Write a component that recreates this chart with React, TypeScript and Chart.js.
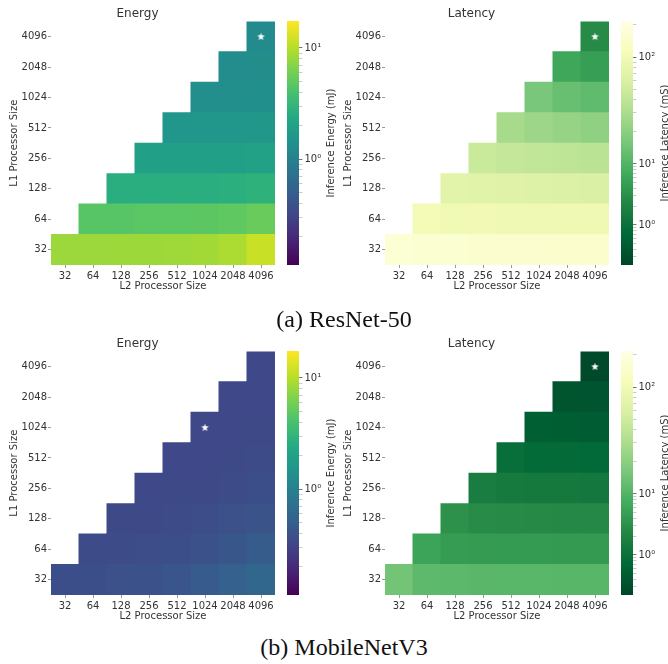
import React, { useEffect, useRef } from 'react';
import { Chart, registerables } from 'chart.js';

Chart.register(...registerables);
Chart.defaults.font.family = "'DejaVu Sans', sans-serif";
Chart.defaults.color = '#333';

// ---------- data ----------
const L2_SIZES = ['32', '64', '128', '256', '512', '1024', '2048', '4096'];
const L1_SIZES = ['32', '64', '128', '256', '512', '1024', '2048', '4096'];

// Rows go from L1 = 32 (bottom) to L1 = 4096 (top); each row lists L2 >= L1.
const RESNET_ENERGY = [
  [8.2, 8.2, 8.3, 8.3, 8.4, 8.6, 9.3, 11.5],
  [4.6, 4.6, 4.7, 4.7, 4.8, 5.0, 5.4],
  [2.6, 2.6, 2.6, 2.65, 2.7, 2.8],
  [1.9, 1.9, 1.9, 1.95, 2.0],
  [1.55, 1.55, 1.55, 1.6],
  [1.35, 1.35, 1.37],
  [1.27, 1.28],
  [1.22],
];
const RESNET_LATENCY = [
  [170, 160, 158, 156, 155, 154, 153, 152],
  [104, 100, 98, 97, 96, 95, 94],
  [72, 68, 66, 64, 62, 60],
  [46, 43, 41, 39, 37],
  [28, 25, 23, 21],
  [16, 13, 12],
  [6.2, 4.8],
  [2.6],
];
const MOBILENET_ENERGY = [
  [0.37, 0.37, 0.38, 0.39, 0.42, 0.47, 0.53, 0.6],
  [0.35, 0.35, 0.36, 0.37, 0.39, 0.43, 0.48],
  [0.34, 0.34, 0.35, 0.36, 0.38, 0.41],
  [0.33, 0.34, 0.34, 0.35, 0.37],
  [0.33, 0.33, 0.34, 0.35],
  [0.33, 0.33, 0.34],
  [0.33, 0.33],
  [0.33],
];
const MOBILENET_LATENCY = [
  [15, 11.5, 11.2, 11, 10.9, 10.8, 10.7, 10.7],
  [5.6, 4.5, 4.4, 4.3, 4.3, 4.2, 4.2],
  [3.2, 2.7, 2.6, 2.55, 2.5, 2.5],
  [1.6, 1.45, 1.4, 1.38, 1.36],
  [0.9, 0.78, 0.76, 0.75],
  [0.52, 0.5, 0.49],
  [0.37, 0.36],
  [0.26],
];

// best configuration [L2, L1]
const BEST_RESNET_ENERGY = ['4096', '4096'];
const BEST_RESNET_LATENCY = ['4096', '4096'];
const BEST_MOBILENET_ENERGY = ['1024', '1024'];
const BEST_MOBILENET_LATENCY = ['4096', '4096'];

// colour scales
const ENERGY_RANGE = [0.111, 17.5];
const ENERGY_TICKS = [1, 10];
const LATENCY_TICKS = [1, 10, 100];
const LATENCY_TICK_POS = [0.164, 0.414, 0.852];

const VIRIDIS = ['#440154', '#482475', '#414487', '#355f8d', '#2a788e', '#21918c', '#22a884', '#44bf70', '#7ad151', '#bddf26', '#fde725'];
const YLGN_R = ['#004529', '#006837', '#238443', '#41ab5d', '#78c679', '#addd8e', '#d9f0a3', '#f7fcb9', '#ffffe5'];

const SUP: Record<string, string> = { '0': '\u2070', '1': '\u00b9', '2': '\u00b2', '-': '\u207b' };
const supLabel = (v: number) => '10' + String(Math.round(Math.log10(v))).split('').map((ch) => SUP[ch]).join('');

function energyNorm(v: number) {
  const a = Math.log10(ENERGY_RANGE[0]);
  const b = Math.log10(ENERGY_RANGE[1]);
  return (Math.log10(v) - a) / (b - a);
}
function latencyNorm(v: number) {
  const L = Math.log10(v);
  const logs = LATENCY_TICKS.map((t) => Math.log10(t));
  const i = L > logs[1] ? 1 : 0;
  const p0 = LATENCY_TICK_POS[i];
  const p1 = LATENCY_TICK_POS[i + 1];
  return p0 + ((L - logs[i]) * (p1 - p0)) / (logs[i + 1] - logs[i]);
}

function hexToRgb(h: string) {
  return [parseInt(h.slice(1, 3), 16), parseInt(h.slice(3, 5), 16), parseInt(h.slice(5, 7), 16)];
}
function sample(stops: string[], t: number) {
  const tt = Math.max(0, Math.min(1, t));
  const n = stops.length - 1;
  const x = tt * n;
  const i = Math.min(Math.floor(x), n - 1);
  const f = x - i;
  const a = hexToRgb(stops[i]);
  const b = hexToRgb(stops[i + 1]);
  const c = a.map((av, k) => Math.round(av + (b[k] - av) * f));
  return `rgb(${c[0]},${c[1]},${c[2]})`;
}

function makeStar() {
  const c = document.createElement('canvas');
  c.width = 9;
  c.height = 9;
  const g = c.getContext('2d')!;
  g.fillStyle = '#ffffff';
  g.beginPath();
  for (let k = 0; k < 10; k++) {
    const r = k % 2 === 0 ? 4 : 1.7;
    const a = -Math.PI / 2 + (k * Math.PI) / 5;
    const x = 4.5 + r * Math.cos(a);
    const y = 4.7 + r * Math.sin(a);
    if (k === 0) g.moveTo(x, y);
    else g.lineTo(x, y);
  }
  g.closePath();
  g.fill();
  return c;
}

interface PanelProps {
  ox: number;
  oy: number;
  title: string;
  values: number[][];
  cmap: string[];
  norm: (v: number) => number;
  best: string[];
  majors: number[];
  cbLabel: string;
}

const TICK_GRID = {
  display: true,
  drawOnChartArea: false,
  drawTicks: true,
  tickLength: 3,
  tickColor: '#999',
  offset: false,
};

function HeatmapPanel({ ox, oy, title, values, cmap, norm, best, majors, cbLabel }: PanelProps) {
  const heatRef = useRef<HTMLCanvasElement>(null);
  const barRef = useRef<HTMLCanvasElement>(null);

  useEffect(() => {
    const datasets: any[] = L1_SIZES.map((l1, r) => ({
      type: 'bar',
      label: 'L1 ' + l1,
      data: L2_SIZES.map((_, c) => (c >= r ? [r - 0.5, r + 0.5] : null)),
      backgroundColor: L2_SIZES.map((_, c) => (c >= r ? sample(cmap, norm(values[r][c - r])) : 'rgba(0,0,0,0)')),
      borderWidth: 0,
      barPercentage: 1,
      categoryPercentage: 1,
      grouped: false,
      inflateAmount: 0.5,
      order: 1,
    }));
    datasets.push({
      type: 'scatter',
      label: 'best',
      data: [{ x: best[0], y: L1_SIZES.indexOf(best[1]) }],
      pointStyle: makeStar(),
      order: 0,
    });

    const heat = new Chart(heatRef.current!, {
      type: 'bar',
      data: { labels: L2_SIZES, datasets },
      options: {
        animation: false,
        responsive: false,
        events: [],
        layout: { padding: { top: 7, right: 9, bottom: 0, left: 0 } },
        plugins: {
          legend: { display: false },
          tooltip: { enabled: false },
          title: { display: true, text: title, font: { size: 12, weight: 'normal' }, padding: 0, color: '#333' },
        },
        scales: {
          x: {
            type: 'category',
            offset: true,
            grid: TICK_GRID,
            border: { display: false },
            ticks: { padding: 2, maxRotation: 0, autoSkip: false, font: { size: 10 } },
            title: { display: true, text: 'L2 Processor Size', font: { size: 10 }, padding: { top: 0, bottom: 8 } },
            afterFit: (s: any) => {
              s.height = 35;
            },
          },
          y: {
            type: 'linear',
            min: -0.5,
            max: 7.5,
            afterBuildTicks: (s: any) => {
              s.ticks = L1_SIZES.map((_, i) => ({ value: i }));
            },
            grid: TICK_GRID,
            border: { display: false },
            ticks: { padding: 1, autoSkip: false, font: { size: 10 }, callback: (v: any) => L1_SIZES[v] },
            title: { display: true, text: 'L1 Processor Size', font: { size: 10 }, padding: { top: 8, bottom: 0 } },
            afterFit: (s: any) => {
              s.width = 51;
            },
          },
        },
      } as any,
    });

    const minors: number[] = [];
    for (let d = -1; d <= 2; d++) {
      for (let m = 2; m <= 9; m++) {
        const v = m * Math.pow(10, d);
        const p = norm(v);
        if (p >= 0 && p <= 1) minors.push(v);
      }
    }

    const labelPlugin = {
      id: 'cbLabel',
      afterDraw(chart: any) {
        const { ctx, chartArea } = chart;
        ctx.save();
        ctx.translate(44, (chartArea.top + chartArea.bottom) / 2);
        ctx.rotate(-Math.PI / 2);
        ctx.font = "10px 'DejaVu Sans', sans-serif";
        ctx.fillStyle = '#333';
        ctx.textAlign = 'center';
        ctx.textBaseline = 'middle';
        ctx.fillText(cbLabel, 0, 0);
        ctx.restore();
      },
    };

    const bar = new Chart(barRef.current!, {
      type: 'bar',
      data: {
        labels: ['colorbar'],
        datasets: [
          {
            data: [[0, 1]],
            backgroundColor: (ctx: any) => {
              const ca = ctx.chart.chartArea;
              if (!ca) return 'rgba(0,0,0,0)';
              const g = ctx.chart.ctx.createLinearGradient(0, ca.bottom, 0, ca.top);
              for (let i = 0; i <= 60; i++) g.addColorStop(i / 60, sample(cmap, i / 60));
              return g;
            },
            borderWidth: 0,
            barPercentage: 1,
            categoryPercentage: 1,
            inflateAmount: 0,
          },
        ],
      },
      options: {
        animation: false,
        responsive: false,
        events: [],
        layout: { padding: { top: 21, right: 5, bottom: 35, left: 0 } },
        plugins: { legend: { display: false }, tooltip: { enabled: false } },
        scales: {
          x: { display: false },
          y: {
            position: 'right',
            min: 0,
            max: 1,
            afterBuildTicks: (s: any) => {
              s.ticks = [
                ...minors.map((v) => ({ value: norm(v), lab: '', isMajor: false })),
                ...majors.map((v) => ({ value: norm(v), lab: supLabel(v), isMajor: true })),
              ];
            },
            grid: {
              display: true,
              drawOnChartArea: false,
              drawTicks: true,
              tickLength: 3.5,
              tickColor: (c: any) => (c.tick && c.tick.isMajor ? '#666' : '#aaa'),
              tickWidth: (c: any) => (c.tick && c.tick.isMajor ? 0.9 : 0.6),
            },
            border: { display: false },
            ticks: {
              padding: 2,
              autoSkip: false,
              font: { size: 10 },
              callback: (_v: any, i: number, ticks: any[]) => ticks[i].lab,
            },
            afterFit: (s: any) => {
              s.width = 35;
            },
          },
        },
      } as any,
      plugins: [labelPlugin],
    });

    return () => {
      heat.destroy();
      bar.destroy();
    };
  }, []);

  return (
    <>
      <canvas ref={heatRef} width={284} height={300} style={{ position: 'absolute', left: ox, top: oy, width: 284, height: 300 }} />
      <canvas ref={barRef} width={52} height={300} style={{ position: 'absolute', left: ox + 287, top: oy, width: 52, height: 300 }} />
    </>
  );
}

const captionStyle: React.CSSProperties = {
  position: 'absolute',
  left: 0,
  width: 688,
  textAlign: 'center',
  fontFamily: "'Liberation Serif', 'Times New Roman', serif",
  fontSize: 24,
  lineHeight: '28px',
  color: '#111',
  whiteSpace: 'pre',
};

export default function App() {
  return (
    <div style={{ position: 'absolute', left: 0, top: 0, width: 668, height: 664, background: '#fff', overflow: 'hidden' }}>
      <HeatmapPanel ox={0} oy={0} title="Energy" values={RESNET_ENERGY} cmap={VIRIDIS} norm={energyNorm} best={BEST_RESNET_ENERGY} majors={ENERGY_TICKS} cbLabel="Inference Energy (mJ)" />
      <HeatmapPanel ox={334} oy={0} title="Latency" values={RESNET_LATENCY} cmap={YLGN_R} norm={latencyNorm} best={BEST_RESNET_LATENCY} majors={LATENCY_TICKS} cbLabel="Inference Latency (mS)" />
      <HeatmapPanel ox={0} oy={330} title="Energy" values={MOBILENET_ENERGY} cmap={VIRIDIS} norm={energyNorm} best={BEST_MOBILENET_ENERGY} majors={ENERGY_TICKS} cbLabel="Inference Energy (mJ)" />
      <HeatmapPanel ox={334} oy={330} title="Latency" values={MOBILENET_LATENCY} cmap={YLGN_R} norm={latencyNorm} best={BEST_MOBILENET_LATENCY} majors={LATENCY_TICKS} cbLabel="Inference Latency (mS)" />
      <div style={{ ...captionStyle, top: 305 }}>{'(a) ResNet-50'}</div>
      <div style={{ ...captionStyle, top: 633 }}>{'(b) MobileNetV3'}</div>
    </div>
  );
}
